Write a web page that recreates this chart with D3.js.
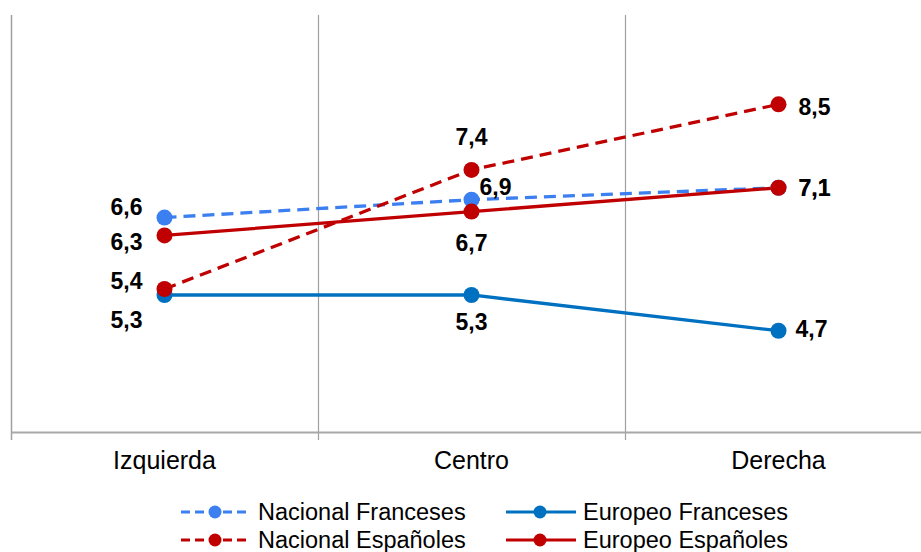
<!DOCTYPE html>
<html>
<head>
<meta charset="utf-8">
<script src="https://cdn.jsdelivr.net/npm/d3@7"></script>
<style>
body { margin: 0; background: #fff; }
text { font-family: "Liberation Sans", Arial, sans-serif; }
</style>
</head>
<body>
<svg id="chart" width="921" height="552"></svg>
<script>
// the data
const categories = ["Izquierda", "Centro", "Derecha"];
const nacionalFranceses = [6.6, 6.9, 7.1];
const europeoFranceses = [5.3, 5.3, 4.7];
const nacionalEspanoles = [5.4, 7.4, 8.5];
const europeoEspanoles = [6.3, 6.7, 7.1];
const seriesNames = ["Nacional Franceses", "Europeo Franceses", "Nacional Españoles", "Europeo Españoles"];

// label offsets from each point [dx, dy, anchor], per series and category
const labelOffsets = [
    [[-22, -3, "end"], [8, -5, "start"], [20, 8, "start"]],
    [[-22, 33, "end"], [0, 35, "middle"], [17, 6, "start"]],
    [[-22, 0, "end"], [0, -25, "middle"], [20, 11, "start"]],
    [[-22, 15, "end"], [0, 39, "middle"], [20, 8, "start"]]
];

let svg = d3.select("#chart");

let x = d3.scaleBand()
.domain(categories)
.range([11, 932]);

let y = d3.scaleLinear()
.domain([3, 10])
.range([432, 15]);

let series = [
    {name: seriesNames[0], values: nacionalFranceses, color: "#3b7ff0", dash: "12,7"},
    {name: seriesNames[1], values: europeoFranceses, color: "#0070c0", dash: null},
    {name: seriesNames[2], values: nacionalEspanoles, color: "#c00000", dash: "12,7"},
    {name: seriesNames[3], values: europeoEspanoles, color: "#c00000", dash: null}
];

// vertical gridlines between categories
svg.append("g")
.selectAll("line")
    .data(categories.slice(1))
    .enter()
    .append("line")
    .attr("x1", d => x(d) + 0.5)
    .attr("x2", d => x(d) + 0.5)
    .attr("y1", 15)
    .attr("y2", 440)
    .attr("stroke", "#a0a0a0")
    .attr("stroke-width", 1.2);

// left axis line
svg.append("line")
.attr("x1", 11.5).attr("x2", 11.5)
.attr("y1", 15).attr("y2", 440)
.attr("stroke", "#a0a0a0").attr("stroke-width", 1.5);

// bottom axis
let xAxis = svg.append("g")
.attr("transform", "translate(0,432)")
.call(d3.axisBottom(x).tickSize(0).tickPadding(19));
xAxis.select(".domain").attr("stroke", "#a8a8a8").attr("stroke-width", 2);
xAxis.selectAll("text")
.attr("font-size", 25)
.attr("fill", "#000")
.style("font-family", "'Liberation Sans', Arial, sans-serif");

let cx = d => x(d) + x.bandwidth() / 2;

let line = d3.line()
.x((d, i) => cx(categories[i]))
.y(d => y(d));

// draw the lines
series.forEach(function (s) {
    svg.append("path")
    .datum(s.values)
    .attr("d", line)
    .attr("fill", "none")
    .attr("stroke", s.color)
    .attr("stroke-width", 3.3)
    .attr("stroke-dasharray", s.dash);
});

// markers and labels
series.forEach(function (s, si) {
    svg.append("g")
    .selectAll("circle")
        .data(s.values)
        .enter()
        .append("circle")
        .attr("cx", (d, i) => cx(categories[i]))
        .attr("cy", d => y(d))
        .attr("r", 8)
        .attr("fill", s.color);

    svg.append("g")
    .selectAll("text")
        .data(s.values)
        .enter()
        .append("text")
        .attr("font-size", 23)
        .attr("font-weight", "bold")
        .attr("fill", "#000")
        .attr("x", (d, i) => cx(categories[i]) + labelOffsets[si][i][0])
        .attr("y", (d, i) => y(d) + labelOffsets[si][i][1])
        .attr("text-anchor", (d, i) => labelOffsets[si][i][2])
        .text(d => d.toFixed(1).replace(".", ","));
});

// legend
let legend = svg.append("g");
let legendX = [181, 506];
let legendY = [512, 540];
series.forEach(function (s, si) {
    let lx = legendX[si % 2], ly = legendY[Math.floor(si / 2)];
    let g = legend.append("g").attr("transform", "translate(" + lx + "," + ly + ")");
    g.append("line")
    .attr("x1", 0).attr("x2", 70)
    .attr("stroke", s.color)
    .attr("stroke-width", 3)
    .attr("stroke-dasharray", s.dash ? "9,5" : null);
    g.append("circle")
    .attr("cx", 34).attr("r", 6.5)
    .attr("fill", s.color);
    g.append("text")
    .attr("x", 77).attr("y", 8)
    .attr("font-size", 23.5)
    .attr("fill", "#000")
    .text(s.name);
});
</script>
</body>
</html>
